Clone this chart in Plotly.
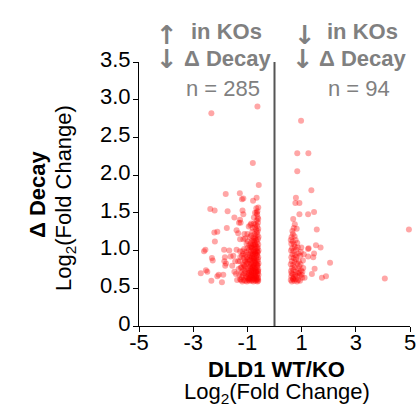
import plotly.graph_objects as go

# ---- data: (log2 FC WT/KO, log2 FC decay) ----
left_points = [
    (-2.33, 2.82), (-0.63, 2.91), (-0.80, 2.16), (-0.58, 1.87), (-1.80, 1.75), (-1.28, 1.76),
    (-1.15, 1.69), (-1.20, 1.68), (-0.79, 1.66), (-0.66, 1.70), (-2.37, 1.55), (-2.21, 1.53),
    (-1.73, 1.52), (-1.18, 1.53), (-1.15, 1.48), (-1.48, 1.44), (-1.27, 1.41), (-1.25, 1.37),
    (-1.31, 1.37), (-0.72, 1.50), (-0.66, 1.50), (-0.76, 1.44), (-0.60, 1.42), (-0.95, 1.32),
    (-0.86, 1.36), (-1.40, 1.27), (-1.34, 1.23), (-1.11, 1.22), (-1.00, 1.22), (-2.22, 1.24),
    (-2.11, 1.25), (-2.20, 1.12), (-1.76, 1.30), (-1.27, 1.15), (-1.15, 1.15), (-1.08, 1.16),
    (-2.60, 0.99), (-2.55, 1.01), (-1.86, 1.01), (-1.67, 1.00), (-1.40, 1.01), (-1.27, 0.99),
    (-1.83, 0.91), (-1.62, 0.92), (-1.52, 0.93), (-1.45, 0.86), (-1.34, 0.86), (-1.27, 0.86),
    (-2.31, 0.90), (-2.28, 0.87), (-1.85, 0.86), (-1.79, 0.83), (-1.82, 0.80), (-1.56, 0.80),
    (-1.48, 0.72), (-1.42, 0.69), (-2.72, 0.70), (-2.53, 0.74), (-2.48, 0.72), (-2.11, 0.66),
    (-2.06, 0.68), (-1.89, 0.68), (-2.33, 0.60), (-1.94, 0.58), (-1.38, 0.61), (-1.27, 0.62),
    (-0.60, 0.60), (-0.63, 0.59), (-0.66, 0.61), (-0.70, 0.60), (-0.74, 0.62), (-0.78, 0.59),
    (-0.81, 0.61), (-0.85, 0.60), (-0.89, 0.62), (-0.93, 0.60), (-0.97, 0.61), (-1.02, 0.59),
    (-1.08, 0.60), (-1.14, 0.61), (-1.19, 0.59), (-1.24, 0.61), (-0.61, 0.64), (-0.68, 0.65),
    (-0.76, 0.64), (-0.83, 0.65), (-0.91, 0.64), (-0.99, 0.63),
    (-0.59, 0.68), (-0.62, 0.70), (-0.65, 0.67), (-0.69, 0.71), (-0.72, 0.68), (-0.77, 0.70),
    (-0.80, 0.67), (-0.84, 0.71), (-0.87, 0.68), (-0.92, 0.70), (-0.95, 0.67), (-1.00, 0.69),
    (-1.06, 0.66), (-1.11, 0.70), (-1.17, 0.67), (-1.22, 0.71), (-1.30, 0.68),
    (-0.60, 0.75), (-0.64, 0.78), (-0.67, 0.74), (-0.71, 0.77), (-0.75, 0.80), (-0.79, 0.74),
    (-0.82, 0.78), (-0.86, 0.75), (-0.90, 0.79), (-0.94, 0.74), (-0.98, 0.77), (-1.04, 0.76),
    (-1.10, 0.79), (-1.15, 0.74), (-1.21, 0.78), (-0.62, 0.73), (-0.73, 0.73), (-0.88, 0.72),
    (-0.59, 0.83), (-0.63, 0.86), (-0.66, 0.82), (-0.70, 0.87), (-0.74, 0.84), (-0.78, 0.81),
    (-0.81, 0.86), (-0.85, 0.83), (-0.89, 0.88), (-0.93, 0.82), (-0.97, 0.85), (-1.03, 0.83),
    (-1.09, 0.87), (-1.16, 0.82), (-0.61, 0.88), (-0.76, 0.88), (-1.00, 0.88),
    (-0.60, 0.91), (-0.64, 0.94), (-0.67, 0.90), (-0.71, 0.95), (-0.75, 0.91), (-0.79, 0.94),
    (-0.83, 0.90), (-0.87, 0.96), (-0.91, 0.92), (-0.96, 0.95), (-1.01, 0.91), (-1.07, 0.94),
    (-1.13, 0.90), (-1.20, 0.93), (-0.62, 0.97), (-0.73, 0.98),
    (-0.59, 1.00), (-0.63, 1.03), (-0.66, 0.99), (-0.70, 1.02), (-0.74, 1.05), (-0.78, 1.00),
    (-0.82, 1.03), (-0.86, 0.99), (-0.90, 1.04), (-0.95, 1.00), (-1.00, 1.03), (-1.05, 0.98),
    (-1.12, 1.02), (-1.18, 0.99), (-0.68, 1.06), (-0.84, 1.06),
    (-0.60, 1.08), (-0.64, 1.11), (-0.67, 1.14), (-0.71, 1.09), (-0.75, 1.12), (-0.79, 1.08),
    (-0.83, 1.13), (-0.88, 1.10), (-0.93, 1.07), (-0.98, 1.12), (-1.03, 1.09), (-0.61, 1.15),
    (-0.72, 1.16),
    (-0.59, 1.18), (-0.63, 1.21), (-0.66, 1.24), (-0.70, 1.19), (-0.74, 1.22), (-0.78, 1.17),
    (-0.82, 1.25), (-0.87, 1.20), (-0.92, 1.18), (-0.62, 1.26),
    (-0.60, 1.29), (-0.64, 1.33), (-0.68, 1.28), (-0.72, 1.31), (-0.76, 1.36), (-0.81, 1.30),
    (-0.61, 1.37), (-0.66, 1.40), (-0.70, 1.35), (-0.89, 1.34), (-0.62, 1.44), (-0.64, 1.48),
    (-0.63, 1.52), (-0.60, 1.57), (-0.67, 1.56),
    (-0.605, 0.62), (-0.655, 0.63), (-0.705, 0.655), (-0.755, 0.665), (-0.805, 0.63),
    (-0.855, 0.67), (-0.685, 0.72), (-0.735, 0.755), (-0.785, 0.785), (-0.835, 0.735),
    (-0.645, 0.805), (-0.695, 0.835), (-0.745, 0.865), (-0.795, 0.895), (-0.845, 0.925),
    (-0.655, 0.935), (-0.705, 0.965), (-0.765, 0.985), (-0.815, 0.955), (-0.625, 1.045),
    (-0.725, 1.075), (-0.775, 1.135), (-0.855, 1.045), (-0.605, 0.725), (-0.615, 0.805),
    (-0.625, 0.985), (-0.815, 0.765), (-0.865, 0.815), (-0.925, 0.875), (-0.955, 0.705),
    (-0.945, 0.625), (-1.045, 0.645), (-1.085, 0.725), (-1.125, 0.805), (-1.065, 0.855),
    (-1.155, 0.955), (-1.245, 0.775), (-1.265, 0.915), (-1.205, 0.645), (-1.325, 0.755),
]

right_points = [
    (0.98, 2.72), (0.84, 2.29), (1.25, 2.29), (0.84, 2.05), (1.36, 1.80), (0.79, 1.70),
    (0.77, 1.63), (0.92, 1.63), (1.46, 1.51), (1.24, 1.48), (0.92, 1.48), (0.69, 1.42),
    (0.75, 1.35), (0.82, 1.29), (1.56, 1.28), (4.96, 1.28), (0.99, 1.04), (1.26, 1.03),
    (1.24, 1.02), (1.53, 1.07), (1.70, 1.04), (1.46, 0.96), (1.43, 0.91), (1.24, 0.92),
    (2.05, 0.84), (1.48, 0.76), (1.38, 0.69), (1.75, 0.64), (1.90, 0.66), (4.07, 0.63),
    (1.11, 0.64), (1.06, 0.77),
    (0.60, 0.61), (0.64, 0.59), (0.68, 0.63), (0.73, 0.60), (0.78, 0.62), (0.83, 0.59),
    (0.88, 0.61), (0.94, 0.60), (0.62, 0.66), (0.67, 0.69), (0.72, 0.65), (0.77, 0.68),
    (0.82, 0.66), (0.87, 0.70), (0.93, 0.67), (1.00, 0.68), (0.61, 0.73), (0.65, 0.77),
    (0.70, 0.74), (0.75, 0.78), (0.80, 0.72), (0.86, 0.76), (0.91, 0.79), (0.98, 0.74),
    (1.03, 0.72), (0.60, 0.82), (0.64, 0.86), (0.69, 0.81), (0.74, 0.85), (0.79, 0.88),
    (0.84, 0.83), (0.90, 0.86), (0.96, 0.82), (0.62, 0.91), (0.66, 0.95), (0.71, 0.90),
    (0.76, 0.94), (0.81, 0.92), (0.88, 0.96), (0.95, 0.93), (0.61, 1.00), (0.65, 1.03),
    (0.70, 0.99), (0.75, 1.05), (0.80, 1.01), (0.86, 1.04), (0.62, 1.09), (0.67, 1.12),
    (0.72, 1.08), (0.78, 1.14), (0.84, 1.10), (0.63, 1.18), (0.68, 1.22), (0.74, 1.19),
    (0.66, 1.26), (0.71, 1.30), (0.60, 1.14), (0.92, 0.71), (1.05, 0.87), (1.08, 0.95),
    (1.02, 0.64), (0.97, 0.98), (0.69, 0.62), (0.63, 0.70),
]

x_tickvals = [-5, -3, -1, 1, 3, 5]
x_ticktext = ["-5", "-3", "-1", "1", "3", "5"]
y_tickvals = [0, 0.5, 1.0, 1.5, 2.0, 2.5, 3.0, 3.5]
y_ticktext = ["0", "0.5", "1.0", "1.5", "2.0", "2.5", "3.0", "3.5"]

n_left_label = "n = 285"
n_right_label = "n = 94"

# ---- figure geometry (pixels) ----
W, H = 419, 412
L, R, T, B = 139, 9, 62, 86
PW, PH = W - L - R, H - T - B

def px(xp):
    return (xp - L) / PW

def py(yp):
    return (H - B - yp) / PH

FONT = "Arial, 'Liberation Sans', sans-serif"
ARROW_FONT = "'DejaVu Sans', sans-serif"
GRAY = "#808080"

pts = left_points + right_points
fig = go.Figure(go.Scatter(
    x=[p[0] for p in pts], y=[p[1] for p in pts],
    mode="markers", cliponaxis=False,
    marker=dict(size=6, color="rgba(255,0,0,0.35)", line=dict(width=0)),
    hoverinfo="x+y",
))

fig.add_shape(type="line", xref="x", yref="paper", x0=0, x1=0, y0=0, y1=1,
              line=dict(color="#555555", width=2))

def ann(text, xp, yp, size=22, bold=False, color=GRAY, xanchor="center", angle=0, family=FONT):
    if bold:
        text = "<b>" + text + "</b>"
    fig.add_annotation(text=text, x=px(xp), y=py(yp), xref="paper", yref="paper",
                       xanchor=xanchor, yanchor="middle", showarrow=False,
                       textangle=angle, font=dict(family=family, size=size, color=color))

# top-left block
ann("↑", 166.5, 35, size=26, bold=True, family=ARROW_FONT)
ann("in KOs", 189, 31.5, bold=True, xanchor="left")
ann("↓", 166.5, 59, size=26, bold=True, family=ARROW_FONT)
ann("Δ Decay", 181.5, 59, bold=True, xanchor="left")
ann(n_left_label, 262, 88, xanchor="right")
# top-right block
ann("↓", 304.5, 35, size=26, bold=True, family=ARROW_FONT)
ann("in KOs", 325, 31.5, bold=True, xanchor="left")
ann("↓", 303, 59, size=26, bold=True, family=ARROW_FONT)
ann("Δ Decay", 316.5, 59, bold=True, xanchor="left")
ann(n_right_label, 392, 88, xanchor="right")

# axis titles
ann("DLD1 WT/KO", 276, 369, bold=True, color="black")
ann("Log<sub>2</sub>(Fold Change)", 276.5, 393, color="black")
ann("Δ Decay", 37, 194, bold=True, color="black", angle=-90)
ann("Log<sub>2</sub>(Fold Change)", 65, 198, color="black", angle=-90)

axis_common = dict(showgrid=False, zeroline=False, showline=True, linecolor="black",
                   linewidth=1, ticks="outside", ticklen=5, tickwidth=1, tickcolor="black",
                   tickfont=dict(family=FONT, size=22, color="black"), fixedrange=True,
                   automargin=False)

fig.update_xaxes(range=[-5, 5], tickvals=x_tickvals, ticktext=x_ticktext,
                 ticklabelstandoff=-8, **axis_common)
fig.update_yaxes(range=[0, 3.5], tickvals=y_tickvals, ticktext=y_ticktext,
                 ticklabelstandoff=-2, ticklabelshift=-3, **axis_common)

fig.update_layout(width=W, height=H, margin=dict(l=L, r=R, t=T, b=B, pad=0, autoexpand=False),
                  paper_bgcolor="white", plot_bgcolor="white", showlegend=False,
                  font=dict(family=FONT))

fig.write_html("out.html", config={"displayModeBar": False},
               post_script="document.body.style.margin='0';document.body.style.overflow='hidden';")
